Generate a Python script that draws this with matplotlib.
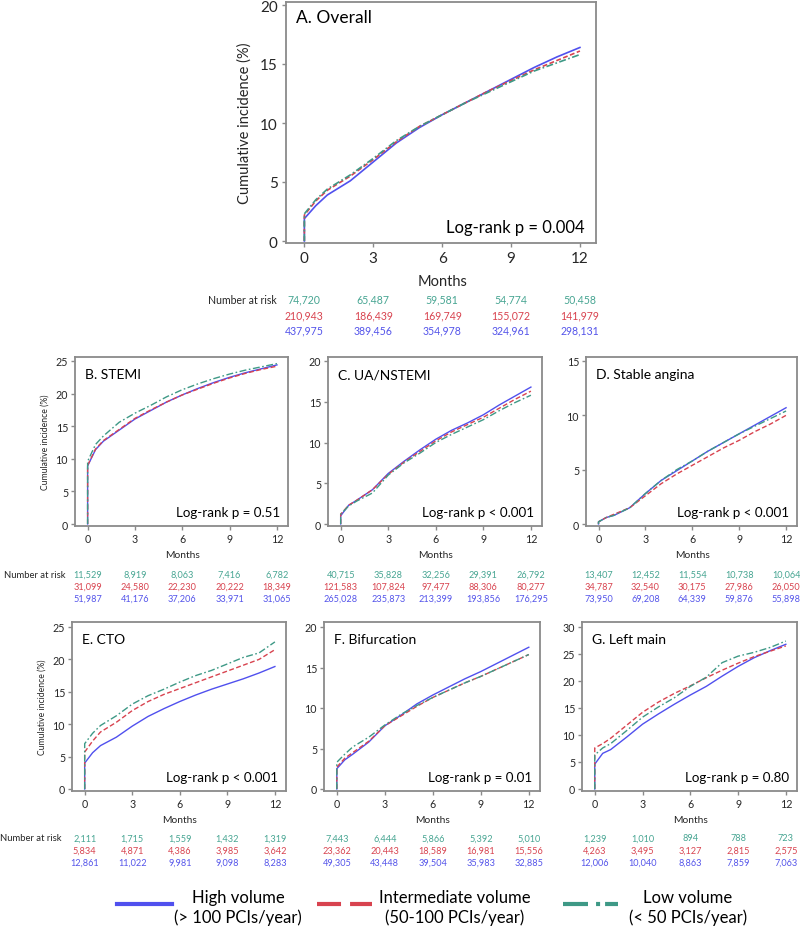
import matplotlib
matplotlib.use("Agg")
import matplotlib.pyplot as plt
from matplotlib.lines import Line2D
import matplotlib.transforms as mtransforms

plt.rcParams['font.family'] = ['Lato', 'DejaVu Sans']
plt.rcParams['lines.scale_dashes'] = False

# ---------------- data ----------------
months = [0, 0, 0.5, 1, 2, 3, 4, 5, 6, 7, 8, 9, 10, 11, 12]
x_ticks = [0, 3, 6, 9, 12]

a_high = [0, 1.9, 3.0, 3.9, 5.1, 6.7, 8.3, 9.6, 10.7, 11.7, 12.7, 13.7, 14.7, 15.6, 16.4]
a_mid = [0, 2.2, 3.4, 4.3, 5.5, 6.9, 8.4, 9.7, 10.7, 11.7, 12.7, 13.6, 14.5, 15.3, 16.1]
a_low = [0, 2.3, 3.5, 4.4, 5.6, 7.0, 8.5, 9.7, 10.7, 11.7, 12.6, 13.5, 14.4, 15.1, 15.8]

b_high = [0, 8.9, 11.4, 12.7, 14.4, 16.1, 17.4, 18.7, 19.8, 20.8, 21.7, 22.5, 23.2, 23.8, 24.4]
b_mid = [0, 9.0, 11.5, 12.8, 14.5, 16.2, 17.5, 18.7, 19.8, 20.7, 21.6, 22.4, 23.1, 23.7, 24.2]
b_low = [0, 9.6, 12.2, 13.5, 15.6, 17.0, 18.2, 19.5, 20.6, 21.5, 22.3, 23.0, 23.6, 24.1, 24.6]

c_high = [0, 1.0, 2.3, 2.9, 4.2, 6.2, 7.7, 9.1, 10.4, 11.5, 12.4, 13.4, 14.6, 15.7, 16.8]
c_mid = [0, 1.2, 2.3, 2.9, 4.2, 6.1, 7.6, 8.9, 10.2, 11.3, 12.2, 13.1, 14.2, 15.3, 16.3]
c_low = [0, 1.2, 2.2, 2.8, 3.8, 6.0, 7.5, 8.7, 10.0, 11.0, 11.9, 12.8, 13.9, 14.9, 15.8]

d_high = [0, 0.2, 0.6, 0.8, 1.5, 2.8, 4.0, 4.9, 5.8, 6.7, 7.5, 8.3, 9.1, 9.9, 10.7]
d_mid = [0, 0.2, 0.6, 0.9, 1.5, 2.6, 3.7, 4.6, 5.4, 6.2, 7.0, 7.7, 8.5, 9.2, 10.0]
d_low = [0, 0.2, 0.6, 0.8, 1.5, 2.8, 4.0, 5.0, 5.8, 6.7, 7.5, 8.3, 9.0, 9.7, 10.4]

e_high = [0, 4.0, 5.6, 6.7, 8.0, 9.7, 11.2, 12.4, 13.5, 14.5, 15.4, 16.2, 17.0, 17.9, 18.9]
e_mid = [0, 5.7, 7.4, 8.8, 10.3, 12.1, 13.5, 14.6, 15.5, 16.4, 17.3, 18.2, 19.1, 20.0, 21.5]
e_low = [0, 7.0, 8.6, 9.8, 11.3, 13.1, 14.4, 15.4, 16.5, 17.5, 18.3, 19.3, 20.3, 21.0, 22.7]

f_high = [0, 2.5, 3.6, 4.3, 5.8, 7.8, 9.1, 10.5, 11.6, 12.6, 13.6, 14.5, 15.5, 16.5, 17.5]
f_mid = [0, 2.7, 3.8, 4.5, 5.9, 7.8, 9.0, 10.2, 11.3, 12.2, 13.1, 13.9, 14.8, 15.7, 16.6]
f_low = [0, 3.3, 4.3, 5.2, 6.4, 7.9, 9.2, 10.3, 11.3, 12.2, 13.1, 13.9, 14.8, 15.7, 16.6]

g_high = [0, 4.6, 6.6, 7.3, 9.6, 12.0, 13.9, 15.7, 17.4, 19.0, 20.9, 22.7, 24.3, 25.6, 26.8]
g_mid = [0, 7.6, 8.4, 9.4, 11.8, 14.2, 16.1, 17.7, 19.1, 20.6, 22.0, 23.3, 24.5, 25.5, 26.5]
g_low = [0, 6.3, 7.6, 8.4, 10.8, 13.3, 15.2, 16.9, 19.0, 20.7, 23.4, 24.6, 25.3, 26.2, 27.4]

a_risk_low = ["74,720", "65,487", "59,581", "54,774", "50,458"]
a_risk_mid = ["210,943", "186,439", "169,749", "155,072", "141,979"]
a_risk_high = ["437,975", "389,456", "354,978", "324,961", "298,131"]
b_risk_low = ["11,529", "8,919", "8,063", "7,416", "6,782"]
b_risk_mid = ["31,099", "24,580", "22,230", "20,222", "18,349"]
b_risk_high = ["51,987", "41,176", "37,206", "33,971", "31,065"]
c_risk_low = ["40,715", "35,828", "32,256", "29,391", "26,792"]
c_risk_mid = ["121,583", "107,824", "97,477", "88,306", "80,277"]
c_risk_high = ["265,028", "235,873", "213,399", "193,856", "176,295"]
d_risk_low = ["13,407", "12,452", "11,554", "10,738", "10,064"]
d_risk_mid = ["34,787", "32,540", "30,175", "27,986", "26,050"]
d_risk_high = ["73,950", "69,208", "64,339", "59,876", "55,898"]
e_risk_low = ["2,111", "1,715", "1,559", "1,432", "1,319"]
e_risk_mid = ["5,834", "4,871", "4,386", "3,985", "3,642"]
e_risk_high = ["12,861", "11,022", "9,981", "9,098", "8,283"]
f_risk_low = ["7,443", "6,444", "5,866", "5,392", "5,010"]
f_risk_mid = ["23,362", "20,443", "18,589", "16,981", "15,556"]
f_risk_high = ["49,305", "43,448", "39,504", "35,983", "32,885"]
g_risk_low = ["1,239", "1,010", "894", "788", "723"]
g_risk_mid = ["4,263", "3,495", "3,127", "2,815", "2,575"]
g_risk_high = ["12,006", "10,040", "8,863", "7,859", "7,063"]

titles = ["A. Overall", "B. STEMI", "C. UA/NSTEMI", "D. Stable angina",
          "E. CTO", "F. Bifurcation", "G. Left main"]
pvalues = ["Log-rank p = 0.004", "Log-rank p = 0.51", "Log-rank p < 0.001",
           "Log-rank p < 0.001", "Log-rank p < 0.001", "Log-rank p = 0.01",
           "Log-rank p = 0.80"]
y_maxes = [20, 25, 20, 15, 25, 20, 30]
legend_labels = ["High volume\n(> 100 PCIs/year)",
                 "Intermediate volume\n(50-100 PCIs/year)",
                 "Low volume\n(< 50 PCIs/year)"]

# ---------------- style ----------------
BLUE = '#5050EE'
RED = '#D8434F'
TEAL = '#3E9986'
BLUE_T = '#5454EA'
RED_T = '#D8434F'
TEAL_T = '#47A592'
SPINE = '#8a8a8a'
TXT = '#262626'

W, H = 800, 929
fig = plt.figure(figsize=(W / 100, H / 100), dpi=100)
fig.patch.set_facecolor('white')


def px_axes(left, right, top, bottom):
    return fig.add_axes([left / W, 1 - bottom / H, (right - left) / W, (bottom - top) / H])


def fy(y):
    return 1 - y / H


panels = [
    # (left, right, top, bottom, zero_px, top_tick_px, big)
    (286, 596, 3, 244, 242, 6, True),
    (75, 288, 358, 527, 525, 362, False),
    (328, 542, 358, 527, 525, 362, False),
    (586, 797, 358, 527, 525, 362, False),
    (72, 286, 623, 792, 790, 628, False),
    (324, 540, 623, 792, 790, 628, False),
    (582, 797, 623, 792, 790, 628, False),
]
series = [(a_high, a_mid, a_low), (b_high, b_mid, b_low), (c_high, c_mid, c_low),
          (d_high, d_mid, d_low), (e_high, e_mid, e_low), (f_high, f_mid, f_low),
          (g_high, g_mid, g_low)]
risks = [(a_risk_low, a_risk_mid, a_risk_high), (b_risk_low, b_risk_mid, b_risk_high),
         (c_risk_low, c_risk_mid, c_risk_high), (d_risk_low, d_risk_mid, d_risk_high),
         (e_risk_low, e_risk_mid, e_risk_high), (f_risk_low, f_risk_mid, f_risk_high),
         (g_risk_low, g_risk_mid, g_risk_high)]

for i, (l, r, t, b, z, tt, big) in enumerate(panels):
    ax = px_axes(l, r, t, b)
    ymax = y_maxes[i]
    ppu = (z - tt) / ymax
    ax.set_ylim(-(b - z) / ppu, ymax + (tt - t) / ppu)
    ax.set_xlim(-0.8, 12.7)
    hi, mid, lo = series[i]
    lw = 1.2 if big else 1.0
    ax.plot(months, hi, color=BLUE, lw=lw, zorder=3)
    ax.plot(months, mid, color=RED, lw=lw, dashes=(3.5, 1.8), zorder=3)
    ax.plot(months, lo, color=TEAL, lw=lw, dashes=(5, 1.8, 1.2, 1.8), zorder=3)
    ax.set_xticks(x_ticks)
    ax.set_yticks(list(range(0, ymax + 1, 5)))
    for s in ax.spines.values():
        s.set_color(SPINE)
        s.set_linewidth(1.3)
    tick_fs = 11 if big else 7.7
    ax.tick_params(direction='out', length=3, width=1, color=SPINE,
                   labelsize=tick_fs, labelcolor=TXT, pad=2 if not big else 3)
    title_fs = 12.5 if big else 10
    ax.text(10 / (r - l), 1 - (15 if big else 17) / (b - t), titles[i],
            transform=ax.transAxes, fontsize=title_fs, color='black', va='center', ha='left')
    ax.text(1 - (11 if big else 8) / (r - l), (16 if big else 14) / (b - t), pvalues[i],
            transform=ax.transAxes, fontsize=12 if big else 9.6, color='black',
            va='center', ha='right')
    if i in (0, 1, 4):
        ax.set_ylabel("Cumulative incidence (%)", fontsize=10.5 if big else 6.2,
                      color=TXT, labelpad=6 if big else 4)

    trans = mtransforms.blended_transform_factory(ax.transData, fig.transFigure)
    if big:
        months_y, rows_y, rfs = 282, (300, 316, 331), 7.6
    elif i < 4:
        months_y, rows_y, rfs = 556, (575, 587, 599), 6.6
    else:
        months_y, rows_y, rfs = 821, (839, 851, 863), 6.6
    ax.text(6, fy(months_y), "Months", transform=trans, ha='center', va='center',
            fontsize=10.5 if big else 7.4, color=TXT)
    for row, col, yy in zip(risks[i], (TEAL_T, RED_T, BLUE_T), rows_y):
        for xv, s in zip(x_ticks, row):
            ax.text(xv, fy(yy), s, transform=trans, ha='center', va='center',
                    fontsize=rfs, color=col)

# Number at risk labels
fig.text(277 / W, fy(300), "Number at risk", ha='right', va='center', fontsize=7.6, color=TXT)
fig.text(66 / W, fy(575), "Number at risk", ha='right', va='center', fontsize=6.8, color=TXT)
fig.text(62 / W, fy(839), "Number at risk", ha='right', va='center', fontsize=6.8, color=TXT)

# Legend
leg_y = fy(905)
fig.add_artist(Line2D([117 / W, 172 / W], [leg_y, leg_y], transform=fig.transFigure,
                      color=BLUE, lw=3))
fig.add_artist(Line2D([317 / W, 372 / W], [leg_y, leg_y], transform=fig.transFigure,
                      color=RED, lw=3, dashes=(17.3, 6.5)))
fig.add_artist(Line2D([563 / W, 618 / W], [leg_y, leg_y], transform=fig.transFigure,
                      color=TEAL, lw=3, dashes=(18, 5.8, 2.9, 3.6)))
for xc, lab in zip((238, 455, 688), legend_labels):
    fig.text(xc / W, fy(908), lab, ha='center', va='center', fontsize=12,
             color='black', linespacing=1.2)

fig.savefig("out.png", dpi=100, facecolor='white')
